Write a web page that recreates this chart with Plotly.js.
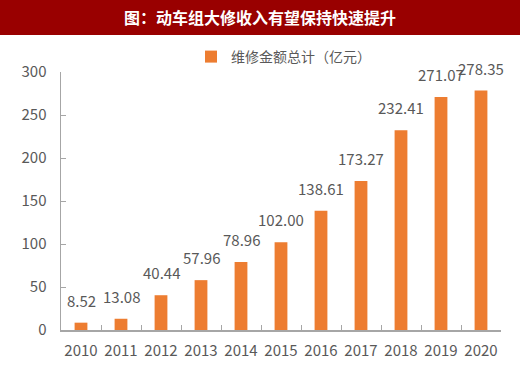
<!DOCTYPE html>
<html><head><meta charset="utf-8">
<script src="https://cdn.plot.ly/plotly-3.0.1.min.js"></script>
<style>html,body{margin:0;padding:0;background:#fff}</style>
</head><body><div id="chart" style="width:520px;height:365px"></div>
<script>
const years = ['2010','2011','2012','2013','2014','2015','2016','2017','2018','2019','2020'];
const values = [8.52, 13.08, 40.44, 57.96, 78.96, 102.00, 138.61, 173.27, 232.41, 271.07, 278.35];
const labels = ['8.52','13.08','40.44','57.96','78.96','102.00','138.61','173.27','232.41','271.07','278.35'];
const seriesName = '维修金额总计（亿元）';
const titleText = '图：动车组大修收入有望保持快速提升';

const W = 520, H = 365, L = 61, R = 19, T = 72, B = 35;
const pw = W - L - R, ph = H - T - B;
const font = '"Microsoft YaHei", "Noto Sans CJK SC", "Noto Sans", sans-serif';

const annotations = years.map((y, i) => ({
  x: i, y: values[i], xref: 'x', yref: 'y', text: labels[i],
  showarrow: false, yanchor: 'bottom', yshift: 10,
  font: {family: font, size: 15, color: '#595959'}
}));

const trace = {
  type: 'bar', x: years, y: values, name: seriesName,
  marker: {color: '#ED7D31'}, hoverinfo: 'none'
};

const layout = {
  width: W, height: H,
  margin: {l: L, r: R, t: T, b: B, pad: 0},
  paper_bgcolor: '#fff', plot_bgcolor: '#fff',
  bargap: 0.68,
  font: {family: font, color: '#595959'},
  title: {
    text: '<b>' + titleText + '</b>', x: 0.5, xanchor: 'center',
    y: 1 - 18 / H, yanchor: 'middle', yref: 'container',
    font: {family: font, size: 16, color: '#ffffff'}
  },
  shapes: [{
    type: 'rect', xref: 'paper', yref: 'paper', layer: 'below',
    x0: -L / pw, x1: (W - L) / pw,
    y0: (H - B - 35) / ph, y1: (H - B) / ph,
    fillcolor: '#990000', line: {width: 0}
  }],
  showlegend: true,
  legend: {
    x: (191 - L) / pw, xanchor: 'left', y: (H - B - 57) / ph, yanchor: 'middle',
    orientation: 'h', bgcolor: 'rgba(0,0,0,0)',
    font: {family: font, size: 14, color: '#595959'}
  },
  xaxis: {
    type: 'category', range: [-0.5, 10.5], showgrid: false, zeroline: false,
    showline: true, linecolor: '#A6A6A6', linewidth: 2,
    ticks: 'inside', tickson: 'boundaries', ticklen: 5, tickcolor: '#A6A6A6', tickwidth: 1,
    tickangle: 0,
    tickfont: {family: font, size: 15, color: '#595959'},
    ticklabelstandoff: 6, fixedrange: true
  },
  yaxis: {
    range: [0, 300], dtick: 50, showgrid: false, zeroline: false,
    showline: true, linecolor: '#A6A6A6', linewidth: 1.5,
    ticks: 'inside', ticklen: 5, tickcolor: '#A6A6A6', tickwidth: 1,
    tickfont: {family: font, size: 15, color: '#595959'},
    ticklabelstandoff: 10, fixedrange: true
  },
  annotations: annotations
};

Plotly.newPlot('chart', [trace], layout, {displayModeBar: false, staticPlot: true});
</script></body></html>
